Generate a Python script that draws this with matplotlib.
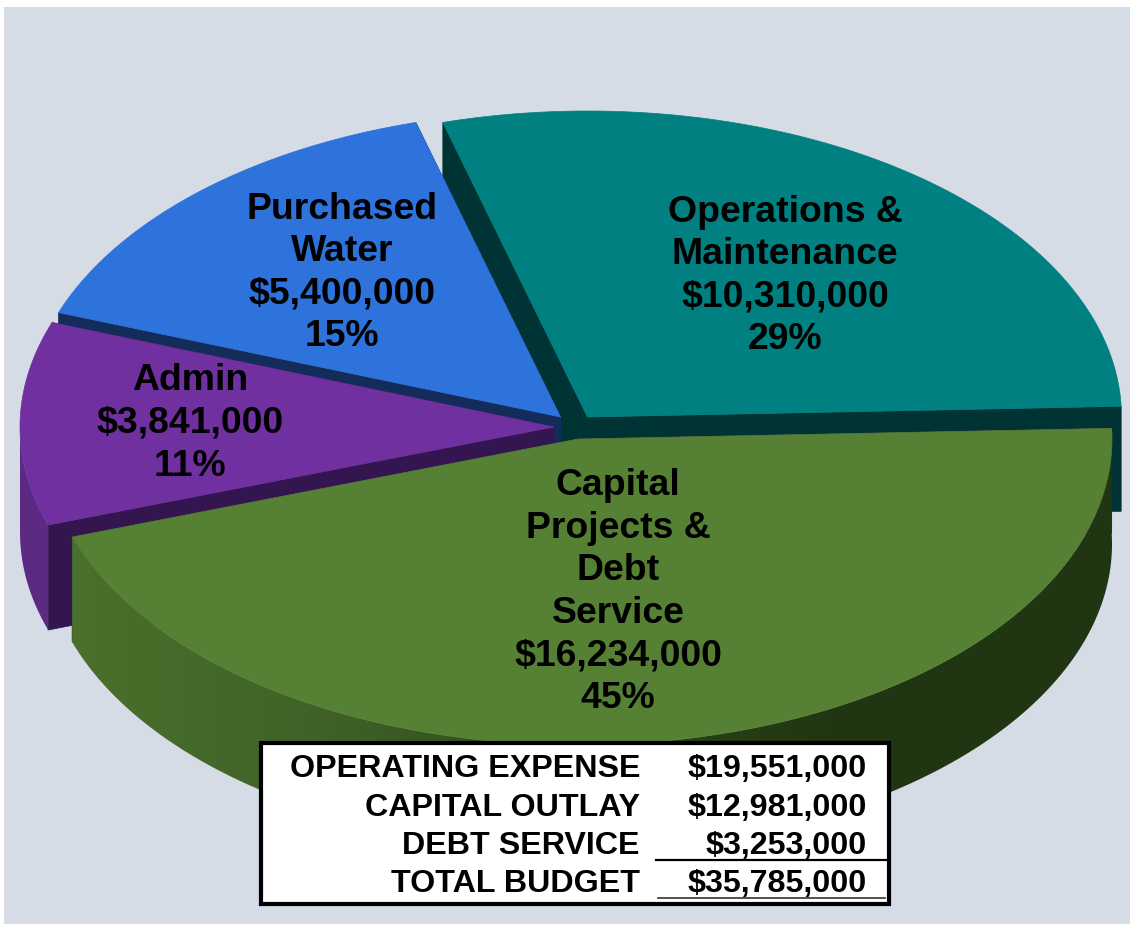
"""Budget pie drawn as an exploded 3D disc (top faces + side walls)."""
import numpy as np
import matplotlib
matplotlib.use('Agg')
import matplotlib.pyplot as plt
from matplotlib.colors import LinearSegmentedColormap
from matplotlib.patches import Polygon, Rectangle

plt.rcParams['font.family'] = ['Liberation Sans', 'DejaVu Sans']

# Data, counter-clockwise from the right-hand side of the disc
names = ['Operations &\nMaintenance', 'Purchased\nWater', 'Admin',
         'Capital\nProjects &\nDebt\nService']
values = [10310000, 5400000, 3841000, 16234000]
percents = ['29%', '15%', '11%', '45%']

table_labels = ['OPERATING EXPENSE', 'CAPITAL OUTLAY', 'DEBT SERVICE', 'TOTAL BUDGET']
table_values = ['$19,551,000', '$12,981,000', '$3,253,000', '$35,785,000']

# Colours
C_BG = '#D5DCE6'
top_colors = ['#008080', '#2E72DC', '#7030A0', '#568033']
wall_colors = ['#003333', '#132C59', '#33154F', '#33154F']
outer_colors = [['#003333'] * 2, ['#132C59'] * 2, ['#5C2A82'] * 2,
                ['#4A702B', '#3F6127', '#2C4619', '#203512', '#203512']]

# Layout in pixels
apexes = [(587.5, 418), (560.5, 418), (554, 428), (578, 440)]
label_pos = [(785, 276), (342, 273), (190, 423.5), (618, 592)]
RX, RY, DEPTH = 534, 306, 105
START = 2.0


def arc(cx, cy, t1, t2, n=200):
    t = np.radians(np.linspace(t1, t2, n))
    return np.column_stack([cx + RX * np.cos(t), cy - RY * np.sin(t)])


def main():
    fig = plt.figure(figsize=(11.3, 9.29), dpi=100, facecolor='white')
    ax = fig.add_axes([0, 0, 1, 1])
    ax.set_axis_off()
    ax.add_patch(Rectangle((4, 8), 1126, 917, color=C_BG, lw=0, zorder=0))

    sweeps = 360 * np.array(values) / sum(values)
    starts = START + np.concatenate([[0], np.cumsum(sweeps)[:-1]])

    z = 1
    for i, (cx, cy) in enumerate(apexes):
        t1, t2 = starts[i], starts[i] + sweeps[i]
        rim = arc(cx, cy, t1, t2)
        down = np.array([0, DEPTH])
        apex = np.array([cx, cy])

        # radial walls
        for p in (rim[0], rim[-1]):
            ax.add_patch(Polygon([apex, p, p + down, apex + down],
                                 fc=wall_colors[i], ec=wall_colors[i], lw=0.5, zorder=z))
        z += 1

        # outer wall, only the part facing the viewer
        if t2 > 180:
            front = arc(cx, cy, max(t1, 180), t2)
            pts = np.vstack([front, (front + down)[::-1]])
            cmap = LinearSegmentedColormap.from_list(f'wall{i}', outer_colors[i])
            im = ax.imshow(np.linspace(0, 1, 256)[None, :], cmap=cmap, aspect='auto',
                           extent=(pts[:, 0].min(), pts[:, 0].max(),
                                   pts[:, 1].max(), pts[:, 1].min()), zorder=z)
            im.set_clip_path(Polygon(pts, transform=ax.transData))
            z += 1

        # top face
        ax.add_patch(Polygon(np.vstack([apex, rim]), fc=top_colors[i], ec=top_colors[i],
                             lw=0.5, zorder=z))
        z += 1

    for name, val, pct, (x, y) in zip(names, values, percents, label_pos):
        ax.text(x, y, f'{name}\n${val:,}\n{pct}', ha='center', va='center',
                fontsize=26.9, fontweight='bold', color='black', linespacing=1.28, zorder=50)

    # Summary table
    ax.add_patch(Rectangle((261, 744), 628, 161, fc='white', ec='black', lw=3, zorder=60))
    rows_y = [769, 808, 846, 884]
    for lab, val, y in zip(table_labels, table_values, rows_y):
        ax.text(640, y, lab, ha='right', va='center', fontsize=23.2, fontweight='bold', zorder=61)
        ax.text(867, y, val, ha='right', va='center', fontsize=23.2, fontweight='bold', zorder=61)
    ax.plot([656, 886], [861, 861], color='black', lw=1.6, zorder=61)
    ax.plot([658, 885], [899, 899], color='#333333', lw=1.2, zorder=61)

    ax.set_xlim(0, 1130)
    ax.set_ylim(929, 0)
    fig.savefig('out.png', dpi=100, facecolor='white')
    plt.close(fig)


if __name__ == "__main__":
    main()
